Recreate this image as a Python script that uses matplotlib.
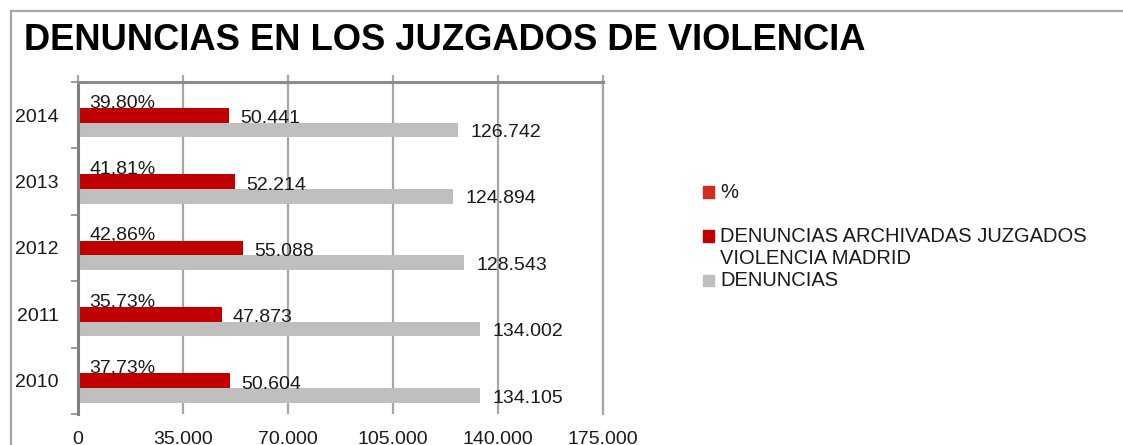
import matplotlib
matplotlib.use("Agg")
import matplotlib.pyplot as plt
from matplotlib.patches import Rectangle
from matplotlib.lines import Line2D
from matplotlib.ticker import FuncFormatter
import numpy as np

plt.rcParams['font.family'] = ['Liberation Sans', 'DejaVu Sans']

# ---- data ----
years = ['2014', '2013', '2012', '2011', '2010']
pct = [39.80, 41.81, 42.86, 35.73, 37.73]
archivadas = [50441, 52214, 55088, 47873, 50604]
denuncias = [126742, 124894, 128543, 134002, 134105]
series_names = ['%', 'DENUNCIAS ARCHIVADAS JUZGADOS\nVIOLENCIA MADRID', 'DENUNCIAS']
title = 'DENUNCIAS EN LOS JUZGADOS DE VIOLENCIA'
xticks = [0, 35000, 70000, 105000, 140000, 175000]

W, H = 1123, 445
fig = plt.figure(figsize=(W / 100, H / 100), dpi=100)

def fx(px):
    return px / W

def fy(py):
    return 1 - py / H

# outer frame lines
fig.add_artist(Line2D([fx(10.5), fx(10.5)], [fy(10.5), fy(445)], color='#a6a6a6', lw=1.6))
fig.add_artist(Line2D([fx(10.5), fx(1123)], [fy(10.5), fy(10.5)], color='#a6a6a6', lw=1.6))

ax = fig.add_axes([fx(78), fy(414), fx(603) - fx(78), fy(82) - fy(414)])

col_pct = '#d42a1f'
col_arch = '#c00000'
col_den = '#bfbfbf'
txt_col = '#1a1a1a'

y = np.arange(len(years))
h = 0.22
b_pct = ax.barh(y - h, [p / 100 for p in pct], height=h, color=col_pct)
b_arch = ax.barh(y, archivadas, height=h, color=col_arch)
b_den = ax.barh(y + h, denuncias, height=h, color=col_den)

def fmt_int(v):
    return f"{int(round(v)):,}".replace(',', '.')

for yi, p in zip(y - h, pct):
    ax.annotate(f"{p:.2f}%".replace('.', ','), xy=(p / 100, yi), xytext=(8, -1.5),
                textcoords='offset points', ha='left', va='center',
                fontsize=14, color=txt_col)
for yi, v in zip(y, archivadas):
    ax.annotate(fmt_int(v), xy=(v, yi), xytext=(8, -2.5),
                textcoords='offset points', ha='left', va='center',
                fontsize=14, color=txt_col)
for yi, v in zip(y + h, denuncias):
    ax.annotate(fmt_int(v), xy=(v, yi), xytext=(9, -2),
                textcoords='offset points', ha='left', va='center',
                fontsize=14, color=txt_col)

ax.set_xlim(0, 175000)
ax.set_ylim(len(years) - 0.5, -0.5)
ax.set_xticks(xticks)
ax.xaxis.set_major_formatter(FuncFormatter(lambda v, _: fmt_int(v)))
ax.set_yticks(y)
ax.set_yticklabels(years)
ax.set_yticks(np.arange(len(years) + 1) - 0.5, minor=True)

ax.grid(axis='x', color='#a6a6a6', lw=1.6)
ax.set_axisbelow(True)
ax.tick_params(axis='x', top=True, bottom=False, labeltop=False, labelbottom=True,
               length=5, width=1.6, color='#a6a6a6', pad=7, labelsize=14, labelcolor=txt_col)
ax.tick_params(axis='y', which='major', length=0, pad=14, labelsize=14, labelcolor=txt_col)
ax.tick_params(axis='y', which='minor', length=5, width=1.2, color='#8c8c8c')

ax.spines['bottom'].set_visible(False)
ax.spines['right'].set_color('#a6a6a6')
ax.spines['right'].set_linewidth(1.6)
ax.spines['top'].set_color('#8c8c8c')
ax.spines['top'].set_linewidth(2.2)
ax.spines['left'].set_color('#808080')
ax.spines['left'].set_linewidth(2.2)

# title
fig.text(fx(24), fy(40), title, fontsize=26.2, fontweight='bold', color='black',
         ha='left', va='center')

# legend (manual)
leg_items = [(col_pct, series_names[0], 192, 192),
             (col_arch, series_names[1], 236, 247),
             (col_den, series_names[2], 280, 280)]
for col, name, ym, yt in leg_items:
    fig.add_artist(Rectangle((fx(703), fy(ym + 5.5)), fx(11), fy(0) - fy(11),
                             color=col, transform=fig.transFigure))
    fig.text(fx(720), fy(yt), name, fontsize=14.5, color=txt_col, ha='left', va='center',
             linespacing=1.2)

fig.savefig('out.png', dpi=100)
